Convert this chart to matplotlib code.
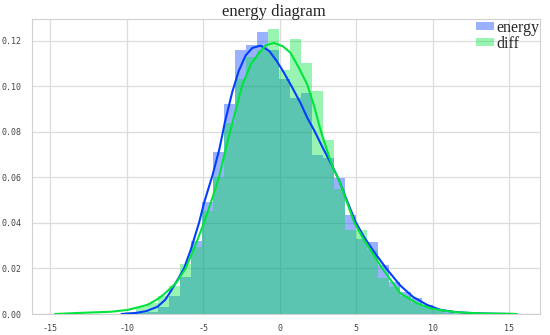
import numpy as np
import matplotlib
matplotlib.use("Agg")
import matplotlib.pyplot as plt
import seaborn as sns

# ----------------------------------------------------------------------------
# values

bin_edges = [-10.15, -9.43, -8.71, -7.99, -7.27, -6.55, -5.83, -5.11, -4.39, -3.67,
             -2.95, -2.23, -1.51, -0.79, -0.07, 0.65, 1.37, 2.09, 2.81, 3.53,
             4.25, 4.97, 5.69, 6.41, 7.13, 7.85, 8.57, 9.29, 10.01, 10.73, 11.45]

energy_hist = [0.0, 0.0005, 0.001, 0.003, 0.008, 0.0164, 0.032, 0.049, 0.0713, 0.0923,
               0.116, 0.118, 0.1238, 0.116, 0.103, 0.095, 0.097, 0.070, 0.0686, 0.0596,
               0.0435, 0.033, 0.0318, 0.0215, 0.0142, 0.0098, 0.0072, 0.004, 0.002, 0.001]

diff_hist = [0.001, 0.003, 0.005, 0.008, 0.0125, 0.022, 0.0296, 0.045, 0.060, 0.084,
             0.103, 0.113, 0.116, 0.125, 0.107, 0.1207, 0.110, 0.098, 0.0765, 0.055,
             0.037, 0.037, 0.028, 0.016, 0.012, 0.008, 0.005, 0.003, 0.0015, 0.0005]

energy_kde_x = [-10.35, -9.5, -8.75, -8.0, -7.5, -7.13, -6.6, -6.26, -5.83, -5.28,
                -4.96, -4.4, -3.95, -3.6, -3.11, -2.7, -2.24, -1.8, -1.26, -0.7,
                -0.2, 0.26, 0.8, 1.35, 1.8, 2.22, 2.8, 3.42, 3.85, 4.4,
                4.94, 5.48, 6.13, 7.01, 7.87, 8.7, 9.62, 10.5, 11.5, 12.8,
                14.0, 15.3]
energy_kde_y = [0.0, 0.0004, 0.0012, 0.0032, 0.0062, 0.0100, 0.0160, 0.0201, 0.0281, 0.0401,
                0.0487, 0.0610, 0.0725, 0.0840, 0.0975, 0.1065, 0.1135, 0.1168, 0.1178, 0.1155,
                0.1110, 0.1060, 0.0995, 0.0926, 0.0860, 0.0809, 0.0730, 0.0650, 0.0590, 0.0495,
                0.0405, 0.0340, 0.0275, 0.0195, 0.0125, 0.0075, 0.0040, 0.0018, 0.0008, 0.0003,
                0.0001, 0.0]

diff_kde_x = [-14.7, -13.0, -11.0, -9.95, -8.65, -8.0, -7.6, -6.8, -6.15, -5.39,
              -4.96, -4.52, -3.98, -3.7, -3.22, -2.45, -1.9, -1.37, -0.9, -0.39,
              0.2, 0.7, 1.25, 1.79, 2.25, 2.65, 3.05, 3.42, 3.91, 4.4,
              4.87, 5.37, 5.92, 6.68, 7.87, 8.96, 10.0, 11.5, 13.0, 15.5]
diff_kde_y = [0.0, 0.0005, 0.0010, 0.0018, 0.0040, 0.0065, 0.0085, 0.0135, 0.0201, 0.0325,
              0.0401, 0.0487, 0.0601, 0.0680, 0.0809, 0.1007, 0.1095, 0.1146, 0.1180, 0.1190,
              0.1175, 0.1146, 0.1080, 0.1007, 0.0910, 0.0809, 0.0725, 0.0650, 0.0580, 0.0487,
              0.0401, 0.0340, 0.0281, 0.0201, 0.0091, 0.0047, 0.0022, 0.0008, 0.0003, 0.0]

labels = ["energy", "diff"]
line_colors = ["#023eff", "#00e43c"]

# ----------------------------------------------------------------------------

sns.set_style("whitegrid")
plt.rcParams["axes.unicode_minus"] = False
plt.rcParams["font.family"] = ["DejaVu Sans Mono", "DejaVu Sans"]

fig = plt.figure(figsize=(5.5, 3.35), dpi=100)
ax = fig.add_axes([32 / 550, 21 / 335, 508 / 550, 295 / 335])

edges = np.array(bin_edges)
widths = np.diff(edges)

ax.bar(edges[:-1], energy_hist, width=widths, align="edge", color=line_colors[0],
       alpha=0.4, linewidth=0, label=labels[0])
ax.plot(energy_kde_x, energy_kde_y, color=line_colors[0], lw=1.5, zorder=3)
ax.bar(edges[:-1], diff_hist, width=widths, align="edge", color=line_colors[1],
       alpha=0.4, linewidth=0, label=labels[1])
ax.plot(diff_kde_x, diff_kde_y, color=line_colors[1], lw=1.5, zorder=3)

ax.set_xlim(-16.2, 17.0)
ax.set_ylim(0, 0.1295)
ax.set_xticks([-15, -10, -5, 0, 5, 10, 15])
ax.set_yticks([0.0, 0.02, 0.04, 0.06, 0.08, 0.10, 0.12])
ax.yaxis.set_major_formatter(matplotlib.ticker.FormatStrFormatter("%.2f"))
ax.tick_params(labelsize=6, colors="#444444", pad=4)
ax.grid(color="#dcdcdc", lw=0.9)
for s in ax.spines.values():
    s.set_color("#d0d0d0")

ax.set_title("energy diagram", fontfamily="Liberation Serif", fontsize=12, pad=2, x=0.476)

fig.legend(loc="upper left", bbox_to_anchor=(476 / 550, 1 - 20 / 335), frameon=False,
           prop={"family": "Liberation Serif", "size": 11.5}, borderpad=0, borderaxespad=0,
           handlelength=1.1, handleheight=0.35, handletextpad=0.2, labelspacing=0.0)

fig.savefig("out.png", dpi=100)
